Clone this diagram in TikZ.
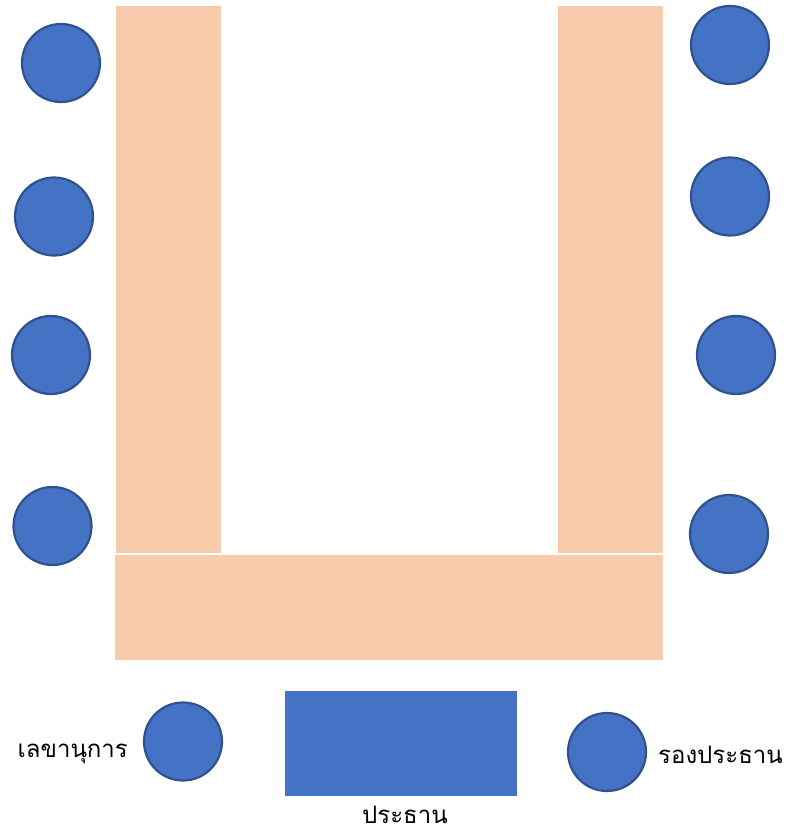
\documentclass[tikz,border=0pt]{standalone}
\usepackage{fontspec}
\newfontfamily\thaifont[Script=Thai]{Loma}
\definecolor{tablec}{HTML}{F7CBAC}
\definecolor{seatc}{HTML}{4472C4}
\definecolor{seatb}{HTML}{2F528F}
\begin{document}
\begin{tikzpicture}[x=1pt,y=-1pt,
  seat/.style={circle,fill=seatc,draw=seatb,line width=2.2pt,minimum size=78pt,inner sep=0pt},
  tbl/.style={fill=tablec,draw=none},
  lbl/.style={font=\thaifont\fontsize{24}{28}\selectfont,inner sep=0pt,text=black}]
\useasboundingbox (0,0) rectangle (789,834);
% tables
\fill[tablec] (116,6) rectangle (221,553);
\fill[tablec] (558,6) rectangle (663,553);
\fill[tablec] (115,555) rectangle (663,660);
% chairman desk
\node[fill=seatc,minimum width=232pt,minimum height=105pt,inner sep=0pt] (chair) at (401,743.5) {};
% left seats
\node[seat] (l1) at (61,63) {};
\node[seat] (l2) at (54,216.5) {};
\node[seat] (l3) at (51,355) {};
\node[seat] (l4) at (52.5,526) {};
% right seats
\node[seat] (r1) at (730,45) {};
\node[seat] (r2) at (730,196.5) {};
\node[seat] (r3) at (736,355) {};
\node[seat] (r4) at (729,534) {};
% bottom seats
\node[seat] (sec) at (183,741.5) {};
\node[seat] (vice) at (607,752) {};
% labels
\node[lbl,anchor=base east] (tsec) at (128,757) {เลขานุการ};
\node[lbl,anchor=base west] (tvice) at (658,763) {รองประธาน};
\node[lbl,anchor=base,text depth=0pt] (tchair) at (405,823) {ประธาน};
\end{tikzpicture}
\end{document}
